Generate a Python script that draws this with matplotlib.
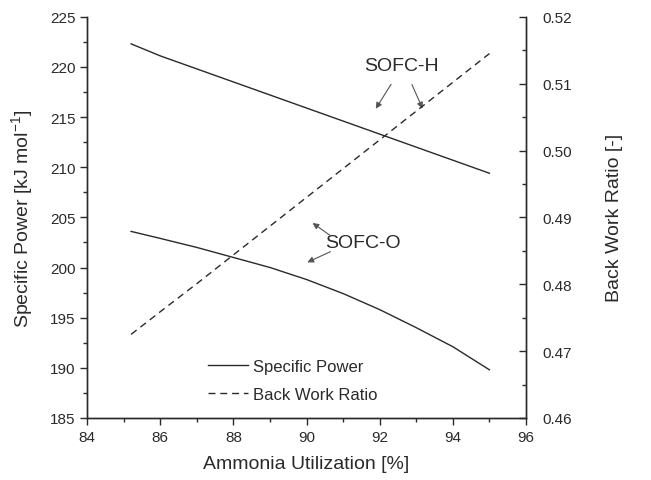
import matplotlib
matplotlib.use("Agg")
import matplotlib.pyplot as plt
from matplotlib.ticker import MultipleLocator

plt.rcParams['font.family'] = ['Liberation Sans', 'DejaVu Sans']

utilization = [85.2, 86, 87, 88, 89, 90, 91, 92, 93, 94, 95]
power_sofc_h = [222.3, 221.1, 219.8, 218.5, 217.2, 215.9, 214.6, 213.3, 212.0, 210.7, 209.4]
power_sofc_o = [203.6, 202.9, 202.0, 201.0, 200.0, 198.8, 197.4, 195.8, 194.0, 192.1, 189.8]
back_work_ratio = [0.4725, 0.4759, 0.4801, 0.4844, 0.4887, 0.4930, 0.4973, 0.5016, 0.5059, 0.5102, 0.5145]

col = '#2a2a2a'
fig = plt.figure(figsize=(6.51, 4.81), dpi=100)
ax = fig.add_axes([0.134, 0.129, 0.674, 0.834])
ax2 = ax.twinx()

l1, = ax.plot(utilization, power_sofc_h, color=col, lw=1.0, label='Specific Power')
ax.plot(utilization, power_sofc_o, color=col, lw=1.0)
l2, = ax2.plot(utilization, back_work_ratio, color=col, lw=1.0, ls=(0, (5, 3.5)), label='Back Work Ratio')

ax.set_xlim(84, 96)
ax.set_ylim(185, 225)
ax2.set_ylim(0.46, 0.52)
ax.xaxis.set_major_locator(MultipleLocator(2))
ax.xaxis.set_minor_locator(MultipleLocator(1))
ax.yaxis.set_major_locator(MultipleLocator(5))
ax.yaxis.set_minor_locator(MultipleLocator(2.5))
ax2.yaxis.set_major_locator(MultipleLocator(0.01))
ax2.yaxis.set_minor_locator(MultipleLocator(0.005))
ax2.yaxis.set_major_formatter(plt.FormatStrFormatter('%.2f'))

for a in (ax, ax2):
    a.spines['top'].set_visible(False)
    for s in a.spines.values():
        s.set_color(col)
        s.set_linewidth(1.0)
ax.tick_params(axis='both', which='major', direction='out', length=5, width=1, colors=col, labelsize=11)
ax.tick_params(axis='both', which='minor', direction='out', length=3, width=1, colors=col)
ax2.tick_params(axis='y', which='major', direction='in', length=5, width=1, colors=col, labelsize=11, pad=12)
ax2.tick_params(axis='y', which='minor', direction='in', length=3, width=1, colors=col)

ax.set_xlabel('Ammonia Utilization [%]', fontsize=14, color=col, labelpad=8)
ax.set_ylabel('Specific Power [kJ mol$^{\\mathregular{-1}}$]', fontsize=14, color=col, labelpad=10)
ax2.set_ylabel('Back Work Ratio [-]', fontsize=14, color=col, rotation=90, labelpad=24)

ap = dict(arrowstyle='-|>', color='#555555', lw=0.8, mutation_scale=9)
ax.text(92.6, 220.1, 'SOFC-H', fontsize=14, color=col, ha='center', va='center')
ax.annotate('', xy=(91.85, 215.6), xytext=(92.35, 218.5), arrowprops=ap)
ax.annotate('', xy=(93.2, 215.6), xytext=(92.85, 218.5), arrowprops=ap)
ax.text(91.55, 202.5, 'SOFC-O', fontsize=14, color=col, ha='center', va='center')
ax.annotate('', xy=(90.1, 204.6), xytext=(90.72, 203.0), arrowprops=ap)
ax.annotate('', xy=(89.95, 200.4), xytext=(90.72, 201.7), arrowprops=ap)

leg = ax.legend(handles=[l1, l2], loc='upper left', bbox_to_anchor=(0.24, 0.185), frameon=False,
                fontsize=12, handlelength=2.4, handletextpad=0.35, labelspacing=0.8)
for t in leg.get_texts():
    t.set_color(col)

fig.savefig('out.png', dpi=100)
